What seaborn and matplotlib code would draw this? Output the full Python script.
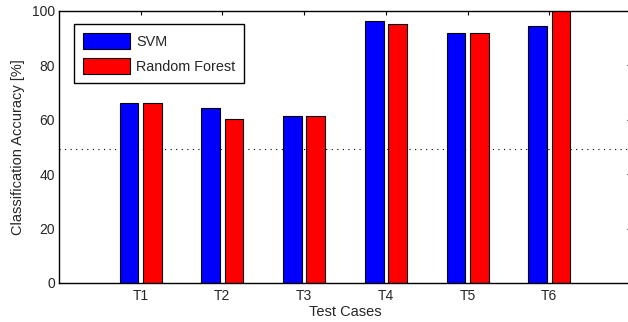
import matplotlib
matplotlib.use("Agg")
import matplotlib.pyplot as plt
import seaborn as sns
import pandas as pd

categories = ["T1", "T2", "T3", "T4", "T5", "T6"]
svm = [66.1, 64.2, 61.3, 96.2, 91.8, 94.4]
rf = [66.1, 60.2, 61.3, 95.1, 91.8, 100.5]
chance_level = 49.3
yticks = [0, 20, 40, 60, 80, 100]

df = pd.DataFrame({
    "case": categories * 2,
    "acc": svm + rf,
    "model": ["SVM"] * len(categories) + ["Random Forest"] * len(categories),
})

sns.set_style("white")
plt.rcParams["font.family"] = ["Liberation Sans", "DejaVu Sans"]

fig = plt.figure(figsize=(6.28, 3.22), dpi=100)
ax = fig.add_axes([59 / 628, 39 / 322, 572 / 628, 272 / 322])

sns.barplot(data=df, x="case", y="acc", hue="model",
            palette={"SVM": "#0000ff", "Random Forest": "#ff0000"},
            width=0.571, gap=0.2, edgecolor="black", linewidth=0.8,
            saturation=1, ax=ax, errorbar=None)

ax.axhline(chance_level, color="black", linestyle=(0, (1, 4)), linewidth=0.8, zorder=0.5)

ax.set_xlim(-1, 6)
ax.set_ylim(0, 100)
ax.set_yticks(yticks)
ax.set_xlabel("Test Cases", fontsize=10.5, labelpad=1.5)
ax.set_ylabel("Classification Accuracy [%]", fontsize=10.5, labelpad=5)
ax.tick_params(direction="in", top=True, right=True, length=3.2, width=0.8,
               labelsize=10, color="black")
ax.tick_params(axis="x", pad=4.5)
ax.tick_params(axis="y", pad=3)
for s in ax.spines.values():
    s.set_visible(True)
    s.set_color("black")
    s.set_linewidth(1.0)

leg = ax.legend(loc="upper left", bbox_to_anchor=(15 / 572, 1 - 13 / 272),
                fontsize=10.4, handlelength=3.25, handleheight=1.31,
                frameon=True, fancybox=False, borderpad=0.62,
                labelspacing=0.62, handletextpad=0.42, borderaxespad=0)
leg.get_frame().set_edgecolor("black")
leg.get_frame().set_linewidth(1.0)
leg.get_frame().set_alpha(1)

fig.savefig("out.png", dpi=100)
